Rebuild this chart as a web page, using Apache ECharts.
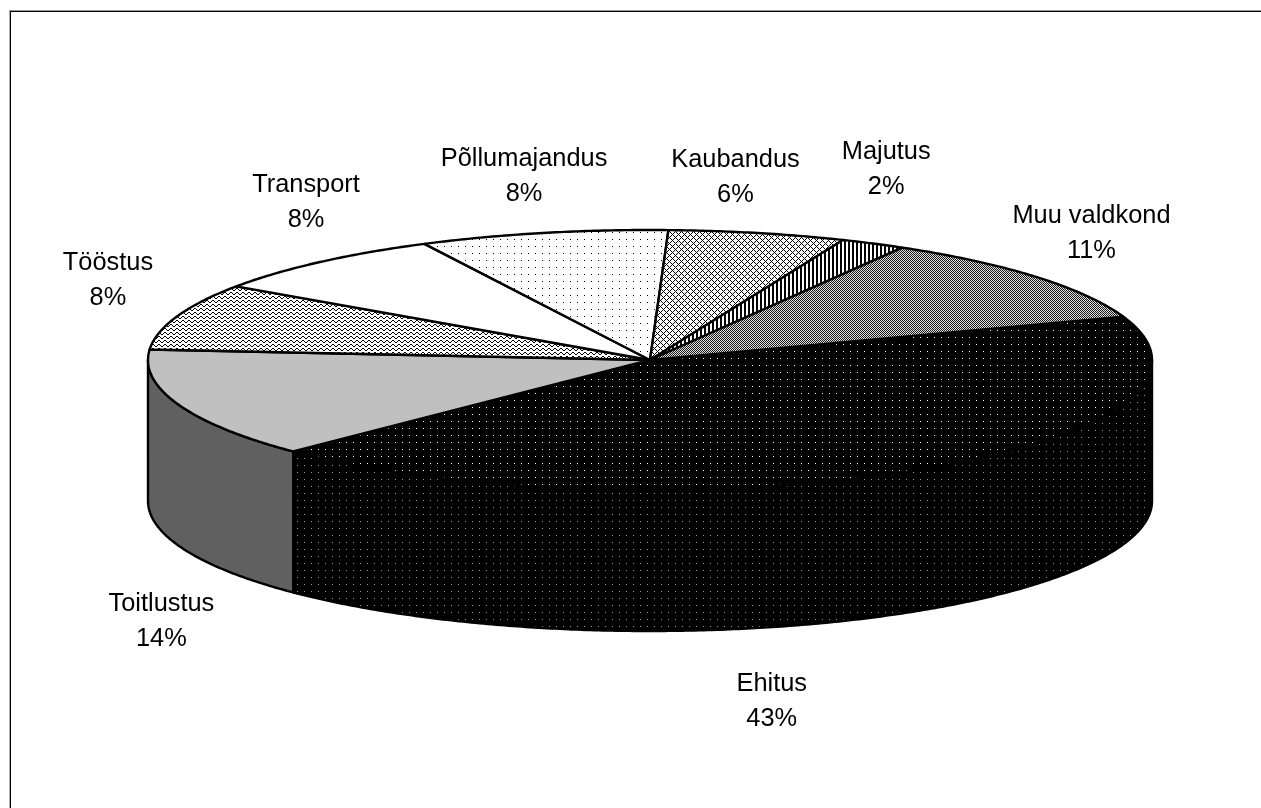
<!DOCTYPE html>
<html>
<head>
<meta charset="utf-8">
<style>html,body{margin:0;padding:0;background:#fff}#c{width:1261px;height:808px}</style>
<script src="https://cdn.jsdelivr.net/npm/echarts@6/dist/echarts.min.js"></script>
</head>
<body>
<div id="c"></div>
<script>
const categories = ['Ehitus','Toitlustus','Tööstus','Transport','Põllumajandus','Kaubandus','Majutus','Muu valdkond'];
const shares = [43.0,13.7,8.3,8.0,8.0,5.7,2.1,11.2];

// layout
const CX = 650, CY = 360, RX = 502, RY = 130, DEPTH = 141, START = -19.5;
const labelNudges = [[-145,231],[-17,217],[-69,-36],[-14,-60],[-19,-56],[-22,-56],[13,-74],[55,-44]];

function bitmap(rows, on, off) {
  const c = document.createElement('canvas');
  c.width = rows[0].length; c.height = rows.length;
  const g = c.getContext('2d');
  rows.forEach((r, y) => { for (let x = 0; x < r.length; x++) {
    g.fillStyle = r[x] === '#' ? on : off; g.fillRect(x, y, 1, 1);
  }});
  return { image: c, repeat: 'repeat' };
}
const blank = '.......';
const dotRow = '...#...';
const sparse = [blank, dotRow, blank, blank, blank, blank, blank];
const sparseSide = [blank, blank, blank, dotRow, blank, blank, blank];
const fills = [
  bitmap(sparse, '#ffffff', '#000000'),
  '#c0c0c0',
  bitmap(['..##..','.#..#.','#....#','......'], '#000000', '#ffffff'),
  '#ffffff',
  bitmap(sparse, '#000000', '#ffffff'),
  bitmap(['#.....','.#...#','..#.#.','...#..','..#.#.','.#...#'], '#000000', '#ffffff'),
  bitmap(['##..'], '#000000', '#ffffff'),
  bitmap(['#.','.#'], '#1a1a1a', '#e0e0e0')
];
const sideFills = [bitmap(sparseSide, '#999999', '#000000'), '#606060'];

const rim = (deg, dy) => [CX + RX * Math.cos(deg * Math.PI / 180), CY + (dy || 0) + RY * Math.sin(deg * Math.PI / 180)];
const arc = (a, b, dy) => {
  const pts = [], n = Math.max(2, Math.ceil(Math.abs(b - a) * 2));
  for (let i = 0; i <= n; i++) pts.push(rim(a + (b - a) * i / n, dy));
  return pts;
};
const total = shares.reduce((s, v) => s + v, 0);

function renderItem(params, api) {
  const i = params.dataIndex;
  let before = 0;
  for (let k = 0; k < i; k++) before += shares[k];
  const a = START + before / total * 360, b = a + api.value(0) / total * 360;
  const line = { stroke: '#000', lineWidth: 2.4, lineJoin: 'round' };
  const children = [];
  const s0 = Math.max(a, 0), s1 = Math.min(b, 180);
  if (s1 > s0) {
    children.push({ type: 'polygon', shape: { points: arc(s0, s1).concat(arc(s1, s0, DEPTH)) },
      style: Object.assign({ fill: sideFills[i] }, line) });
  }
  children.push({ type: 'polygon', shape: { points: [[CX, CY]].concat(arc(a, b)) },
    style: Object.assign({ fill: fills[i] }, line) });
  const m = rim((a + b) / 2);
  children.push({ type: 'text', z2: 10, style: {
    text: categories[i] + '\n' + Math.round(api.value(0) / total * 100) + '%',
    x: m[0] + labelNudges[i][0], y: m[1] + labelNudges[i][1],
    align: 'center', verticalAlign: 'middle', lineHeight: 35,
    fontSize: 25.4, fontFamily: '"Liberation Sans", Arial, sans-serif', fill: '#000'
  }});
  return { type: 'group', children };
}

const chart = echarts.init(document.getElementById('c'), null, { renderer: 'canvas', devicePixelRatio: 1 });
chart.setOption({
  animation: false,
  backgroundColor: '#ffffff',
  graphic: [
    { type: 'rect', silent: true, shape: { x: 9, y: 10, width: 1252, height: 1 }, style: { fill: '#999' } },
    { type: 'rect', silent: true, shape: { x: 10, y: 11, width: 1251, height: 1 }, style: { fill: '#000' } },
    { type: 'rect', silent: true, shape: { x: 9, y: 11, width: 1, height: 797 }, style: { fill: '#aaa' } },
    { type: 'rect', silent: true, shape: { x: 10, y: 11, width: 1, height: 797 }, style: { fill: '#000' } }
  ],
  series: [{
    type: 'custom',
    coordinateSystem: 'none',
    silent: true,
    renderItem,
    data: shares.map((v, i) => ({ name: categories[i], value: [v] }))
  }]
});
</script>
</body>
</html>
